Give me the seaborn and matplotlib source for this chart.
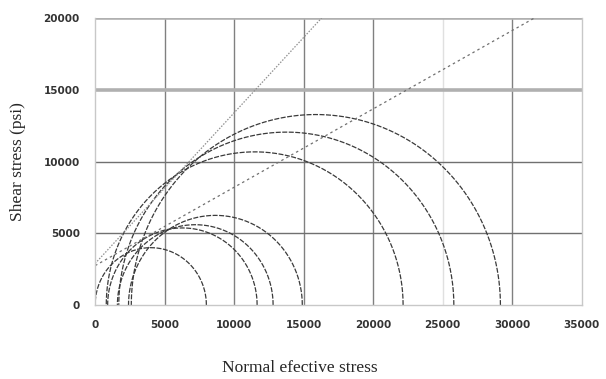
import numpy as np
import pandas as pd
import matplotlib
matplotlib.use("Agg")
import matplotlib.pyplot as plt
import seaborn as sns

# Mohr circles: minimum and maximum principal effective stresses (psi)
sigma3 = [0, 900, 1600, 2400, 800, 1700, 2600]
sigma1 = [8000, 11650, 12800, 14900, 22150, 25800, 29150]

# Failure envelopes: cohesion (psi) and slope (tan phi)
env_cohesion = [2900, 2750]
env_slope = [1.05, 0.546]

x_ticks = [0, 5000, 10000, 15000, 20000, 25000, 30000, 35000]
y_ticks = [0, 5000, 10000, 15000, 20000]

sns.set_theme(style="white")
plt.rcParams['font.family'] = ['DejaVu Sans']

fig = plt.figure(figsize=(6.06, 3.79), dpi=100)
ax = fig.add_axes([0.157, 0.195, 0.803, 0.7575])

# circles
rows = []
theta = np.linspace(0, np.pi, 300)
for i, (s3, s1) in enumerate(zip(sigma3, sigma1)):
    c = (s1 + s3) / 2.0
    r = (s1 - s3) / 2.0
    for t in theta:
        rows.append({"circle": i, "sigma": c + r * np.cos(t), "tau": r * np.sin(t)})
circ = pd.DataFrame(rows)

# grid lines
for xv in [5000, 10000, 15000, 20000, 30000]:
    ax.axvline(xv, color="#808080", lw=1.0, zorder=0)
ax.axvline(25000, color="#e0e0e0", lw=1.0, zorder=0)
for yv in [5000, 10000]:
    ax.axhline(yv, color="#707070", lw=1.0, zorder=0)
for yv in [15000, 20000]:
    ax.axhline(yv, color="#b0b0b0", lw=2.6, zorder=0)

sns.lineplot(data=circ, x="sigma", y="tau", units="circle", estimator=None,
             sort=False, color="#3a3a3a", lw=0.9, ax=ax,
             linestyle=(0, (4, 1.2)))

# envelopes
env_rows = []
for j, (c0, m) in enumerate(zip(env_cohesion, env_slope)):
    xend = (20000 - c0) / m
    for xv in np.linspace(0, xend, 2):
        env_rows.append({"env": j, "sigma": xv, "tau": c0 + m * xv})
env = pd.DataFrame(env_rows)
sns.lineplot(data=env[env.env == 0], x="sigma", y="tau", estimator=None, sort=False,
             color="#909090", lw=0.9, ls=(0, (1.2, 1.2)), ax=ax)
sns.lineplot(data=env[env.env == 1], x="sigma", y="tau", estimator=None, sort=False,
             color="#707070", lw=0.9, ls=(0, (2, 2.5)), ax=ax)

ax.set_xlim(0, 35000)
ax.set_ylim(0, 20000)
ax.set_xticks(x_ticks)
ax.set_yticks(y_ticks)
ax.set_xticklabels([str(v) for v in x_ticks], fontsize=7.5, color="#333333", fontweight="bold")
ax.set_yticklabels([str(v) for v in y_ticks], fontsize=7.5, color="#333333", fontweight="bold")
ax.tick_params(axis="x", length=0, pad=11)
ax.tick_params(axis="y", length=3, color="#999999", pad=8)

for s in ["left", "bottom", "right"]:
    ax.spines[s].set_color("#c8c8c8")
    ax.spines[s].set_linewidth(1.0)
ax.spines["top"].set_visible(False)

ax.set_xlabel("")
ax.set_ylabel("")
fig.text(0.495, 0.028, "Normal efective stress", ha="center", va="center",
         fontsize=12.5, family="Liberation Serif")
fig.text(0.03, 0.575, "Shear stress (psi)", ha="center", va="center",
         rotation=90, fontsize=12.5, family="Liberation Serif")

fig.savefig("out.png", dpi=100, facecolor="white")
